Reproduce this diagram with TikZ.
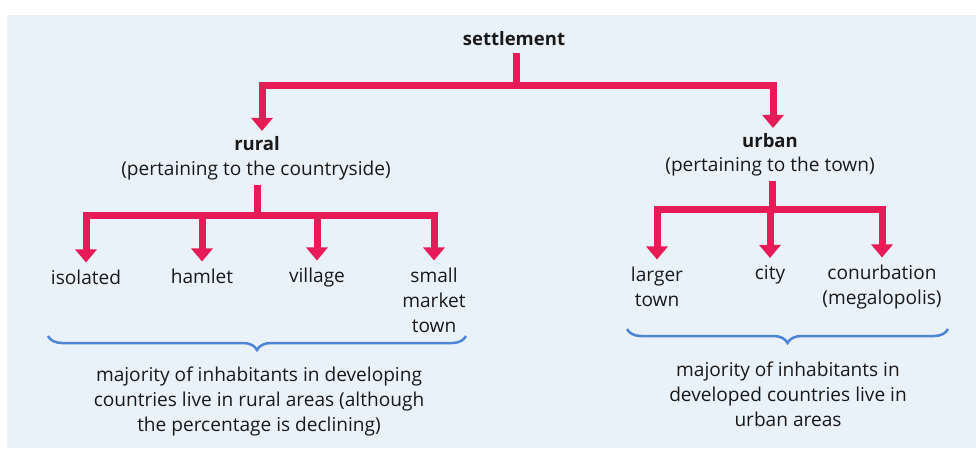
\documentclass[tikz,border=0pt]{standalone}
\usepackage{fontspec}
\setmainfont{Open Sans}
\usetikzlibrary{arrows.meta,decorations.pathreplacing}
\definecolor{bg}{HTML}{EAF2F9}
\definecolor{arrowred}{HTML}{E61B58}
\definecolor{braceblue}{HTML}{4D85D4}
\newcommand\lblfont{\fontsize{19.1}{25}\selectfont}
\newcommand\hdfont{\fontsize{18.5}{25}\selectfont\bfseries}
\tikzset{
  conn/.style={draw=arrowred, line width=7pt},
  arr/.style={conn, -{Triangle[width=21pt,length=13pt]}},
  lbl/.style={inner sep=0pt, outer sep=0pt, anchor=base, font=\lblfont, text=black!90},
  tgt/.style={lbl, outer ysep=7pt},
  hd/.style={lbl, outer ysep=5pt, font=\hdfont},
  note/.style={lbl, align=center, anchor=north},
  brc/.style={draw=braceblue, line width=2.5pt, decorate, decoration={brace, amplitude=14pt}},
}
\begin{document}
\begin{tikzpicture}[x=1pt,y=-1pt]
\useasboundingbox (0,0) rectangle (976,448);
\fill[white] (0,0) rectangle (976,448);
\fill[bg] (7,15) rectangle (976,448);

% top
\node[hd, outer ysep=8pt] (settlement) at (514,45) {settlement};
\coordinate (jt) at (516,85);
\draw[conn] (settlement.south -| jt) -- (jt);

% rural
\node[hd] (rural) at (257,150) {rural};
\node[tgt, outer ysep=5pt] (ruraldesc) at (256,175) {(pertaining to the countryside)};
\draw[arr] (jt) -| ([xshift=5pt]rural.north);
\coordinate (jr) at (257,215);
\draw[conn] (ruraldesc.south -| jr) -- (jr);

\node[tgt] (isolated) at (86,284) {isolated};
\node[tgt] (hamlet) at (202,283) {hamlet};
\node[tgt] (village) at (317,282) {village};
\node[tgt] (small) at (434,282) {small};
\node[lbl] (market) at (434,307) {market};
\node[lbl] (town) at (434,332) {town};
\draw[arr] (jr) -| (isolated.north);
\draw[arr] (jr) -| (hamlet.north);
\draw[arr] (jr) -| (village.north);
\draw[arr] (jr) -| (small.north);

\draw[brc] (466,336) -- (48,336);
\node[note] (ruralnote) at (259,367) {majority of inhabitants in developing\\countries live in rural areas (although\\the percentage is declining)};

% urban
\node[hd] (urban) at (770,147) {urban};
\node[tgt, outer ysep=5pt] (urbandesc) at (770,171) {(pertaining to the town)};
\draw[arr] (jt) -| ([xshift=3pt]urban.north);
\coordinate (ju) at (772,209);
\draw[conn] (urbandesc.south -| ju) -- (ju);

\node[tgt] (larger) at (657,281) {larger};
\node[lbl] (largertown) at (657,306) {town};
\node[tgt] (city) at (770,279) {city};
\node[tgt] (conurb) at (882,279) {conurbation};
\node[lbl] (megalo) at (882,304) {(megalopolis)};
\draw[arr] (ju) -| (larger.north);
\draw[arr] (ju) -| (city.north);
\draw[arr] (ju) -| (conurb.north);

\draw[brc] (948,329) -- (627,329);
\node[note] (urbannote) at (788,362) {majority of inhabitants in\\developed countries live in\\urban areas};
\end{tikzpicture}
\end{document}
